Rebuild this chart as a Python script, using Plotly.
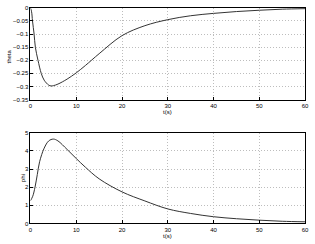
import plotly.graph_objects as go

t_theta = [0, 0.25, 0.45, 0.8, 1.07, 1.65, 2.36, 3, 4, 4.5, 5, 6, 8, 10, 12, 15, 20, 25, 30, 35, 40, 45, 50, 55, 60]
theta = [0, -0.015, -0.05, -0.1, -0.15, -0.2, -0.25, -0.276, -0.295, -0.298, -0.297, -0.291, -0.272, -0.248, -0.22, -0.175, -0.106, -0.068, -0.045, -0.03, -0.021, -0.014, -0.009, -0.005, -0.003]

t_phi = [0, 0.5, 1, 1.5, 2, 3, 4, 5, 6, 8, 10, 12, 15, 20, 25, 30, 35, 40, 45, 50, 55, 60]
phi = [1.25, 1.5, 2.0, 2.7, 3.4, 4.15, 4.55, 4.65, 4.55, 4.08, 3.58, 3.1, 2.46, 1.74, 1.24, 0.8, 0.55, 0.37, 0.26, 0.18, 0.12, 0.09]

x_ticks = [0, 10, 20, 30, 40, 50, 60]
theta_ticks = [0, -0.05, -0.1, -0.15, -0.2, -0.25, -0.3, -0.35]
theta_labels = ["0", "\u22120.05", "\u22120.1", "\u22120.15", "\u22120.2", "\u22120.25", "\u22120.3", "\u22120.35"]
phi_ticks = [0, 1, 2, 3, 4, 5]

W, H = 315, 244
font = dict(family="Liberation Sans, Arial, sans-serif", size=6, color="black")


def px(x):
    return x / W


def py(y):
    return 1 - y / H


fig = go.Figure()
fig.add_trace(go.Scatter(x=t_theta, y=theta, mode="lines", line=dict(color="#333", width=1, shape="spline"),
                         xaxis="x", yaxis="y", showlegend=False))
fig.add_trace(go.Scatter(x=t_phi, y=phi, mode="lines", line=dict(color="#333", width=1, shape="spline"),
                         xaxis="x2", yaxis="y2", showlegend=False))

x0, x1 = px(29), px(309)
grid = dict(showgrid=True, gridcolor="#bdbdbd", griddash="1px,2px", gridwidth=1)
common_x = dict(range=[0, 60], tickvals=x_ticks, ticks="inside", ticklen=3, tickcolor="black",
                showline=True, linecolor="black", linewidth=1, mirror=True,
                zeroline=False, tickfont=font, domain=[x0, x1], ticklabeloverflow="allow", **grid)
common_y = dict(ticks="inside", ticklen=3, tickcolor="black",
                showline=True, linecolor="black", linewidth=1, mirror=True,
                zeroline=False, tickfont=font, ticklabeloverflow="allow", **grid)

fig.update_layout(
    width=W, height=H, margin=dict(l=0, r=0, t=0, b=0, pad=0),
    paper_bgcolor="white", plot_bgcolor="white",
    xaxis=dict(common_x, anchor="y"),
    yaxis=dict(common_y, range=[-0.35, 0], tickvals=theta_ticks, ticktext=theta_labels,
               domain=[py(99), py(5)], anchor="x"),
    xaxis2=dict(common_x, anchor="y2"),
    yaxis2=dict(common_y, range=[0, 5], tickvals=phi_ticks,
                domain=[py(226), py(133)], anchor="x2"),
    annotations=[
        dict(text="t(s)", x=(x0 + x1) / 2, y=py(111.5), xref="paper", yref="paper",
             showarrow=False, font=font, xanchor="center", yanchor="middle", borderpad=0),
        dict(text="t(s)", x=(x0 + x1) / 2, y=py(238.5), xref="paper", yref="paper",
             showarrow=False, font=font, xanchor="center", yanchor="middle", borderpad=0),
        dict(text="theta", x=px(7), y=py(55), xref="paper", yref="paper", textangle=-90,
             showarrow=False, font=font, xanchor="center", yanchor="middle", borderpad=0),
        dict(text="phi", x=px(21), y=py(180), xref="paper", yref="paper", textangle=-90,
             showarrow=False, font=font, xanchor="center", yanchor="middle", borderpad=0),
    ],
)

fig.write_html("out.html", config={"displayModeBar": False},
               post_script="document.body.style.margin='0';")
